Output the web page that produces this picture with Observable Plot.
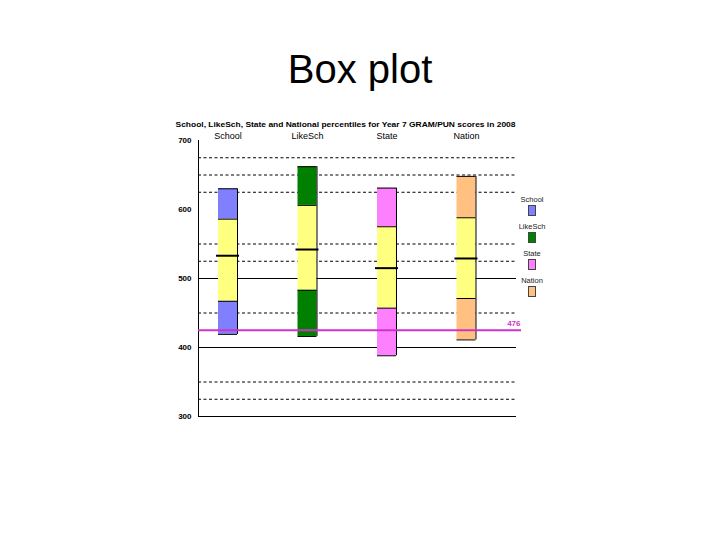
<!DOCTYPE html>
<html>
<head>
<meta charset="utf-8">
<script src="https://cdn.jsdelivr.net/npm/d3@7"></script>
<script src="https://cdn.jsdelivr.net/npm/@observablehq/plot@0.6"></script>
<style>
  html, body { margin: 0; padding: 0; background: #fff; }
  #page { position: relative; width: 720px; height: 540px; overflow: hidden; font-family: "Liberation Sans", Arial, sans-serif; }
  #title { position: absolute; left: 0; width: 720px; top: 49px; text-align: center; font-size: 40px; line-height: 40px; color: #000; }
  #chart { position: absolute; left: 150px; top: 100px; }
  #legend { position: absolute; left: 512px; top: 196px; width: 40px; display: flex; flex-direction: column; gap: 7px; align-items: center; }
  .item { display: flex; flex-direction: column; align-items: center; }
  .item span { font-size: 7.5px; line-height: 8px; color: #222; }
  .item i { display: block; width: 6px; height: 9px; border: 0.6px solid #444; margin-top: 1px; }
</style>
</head>
<body>
<div id="page">
  <div id="title">Box plot</div>
  <div id="chart"></div>
  <div id="legend"></div>
</div>
<script>
// ---- data ----
const subtitle = "School, LikeSch, State and National percentiles for Year 7 GRAM/PUN scores in 2008";
const categories = ["School", "LikeSch", "State", "Nation"];
const lowValues    = [419, 416, 388, 411];
const q1Values     = [467, 483, 457, 471];
const medianValues = [533, 542, 515, 529];
const q3Values     = [586, 606, 575, 588];
const highValues   = [630, 662, 631, 648];
const colours      = ["#8080ff", "#007f00", "#ff80ff", "#ffc080"];
const middleColour = "#ffff80";
const dashedLines  = [675, 650, 625, 550, 525, 450, 350, 325];
const solidLines   = [500, 400, 300];
const yTicks       = [300, 400, 500, 600, 700];
const refValue     = 425;
const refLabel     = "476";
const refColour    = "#cc33cc";

// ---- tables built from the arrays ----
const boxes = categories.map((c, i) => ({
  cat: c, low: lowValues[i], q1: q1Values[i], median: medianValues[i], q3: q3Values[i], high: highValues[i], colour: colours[i]
}));
const segments = boxes.flatMap(b => [
  {cat: b.cat, y1: b.low, y2: b.q1, fill: b.colour},
  {cat: b.cat, y1: b.q1, y2: b.q3, fill: middleColour},
  {cat: b.cat, y1: b.q3, y2: b.high, fill: b.colour}
]);
const edges = boxes.flatMap(b => [b.low, b.q1, b.q3, b.high].map(v => ({cat: b.cat, v})));

const chart = Plot.plot({
  width: 420,
  height: 330,
  marginLeft: 48,
  marginRight: 54,
  marginTop: 40,
  marginBottom: 14,
  style: {fontFamily: "Liberation Sans, Arial, sans-serif", background: "transparent", overflow: "visible"},
  x: {type: "band", domain: categories, range: [68, 325.5], paddingInner: 0.761, paddingOuter: 0, round: false},
  y: {domain: [300, 700]},
  marks: [
    Plot.ruleY(dashedLines, {stroke: "#000", strokeWidth: 1, strokeDasharray: "3,2.5"}),
    Plot.ruleY(solidLines, {stroke: "#000", strokeWidth: 1}),
    Plot.frame({anchor: "left", stroke: "#000", strokeWidth: 1}),
    Plot.barY(segments, {x: "cat", y1: "y1", y2: "y2", fill: "fill"}),
    Plot.tickY(edges, {x: "cat", y: "v", stroke: "#000", strokeWidth: 1}),
    Plot.ruleX(boxes, {x: "cat", y1: "low", y2: "high", dx: 9.5, stroke: "#000", strokeWidth: 1}),
    Plot.tickY(boxes, {x: "cat", y: "median", stroke: "#000", strokeWidth: 2, insetLeft: -2, insetRight: -2}),
    Plot.ruleY([refValue], {stroke: refColour, strokeWidth: 2, insetRight: -5}),
    Plot.text([refLabel], {y: refValue, frameAnchor: "right", textAnchor: "end", dx: 4, dy: -7, fill: refColour, fontWeight: "bold", fontSize: 8}),
    Plot.text([subtitle], {frameAnchor: "top", dx: -12, dy: -19, fontWeight: "bold", fontSize: 8, fill: "#000", className: "subtitle"}),
    Plot.axisX({anchor: "top", tickSize: 0, tickPadding: 2, fontSize: 9, label: null}),
    Plot.axisY({ticks: yTicks, tickSize: 0, tickPadding: 7, fontSize: 8, fontWeight: "bold", label: null})
  ]
});
document.getElementById("chart").appendChild(chart);
d3.select(chart).selectAll(".subtitle text").attr("textLength", 340).attr("lengthAdjust", "spacingAndGlyphs");

// ---- legend ----
const legend = d3.select("#legend");
categories.forEach((c, i) => {
  const item = legend.append("div").attr("class", "item");
  item.append("span").text(c);
  item.append("i").style("background", colours[i]);
});
</script>
</body>
</html>
